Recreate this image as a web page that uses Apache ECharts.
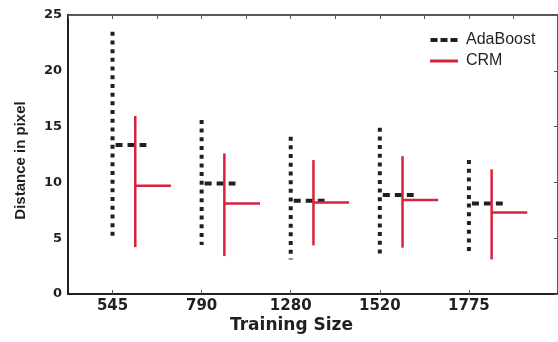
<!DOCTYPE html>
<html>
<head>
<meta charset="utf-8">
<script src="https://cdn.jsdelivr.net/npm/echarts@6/dist/echarts.min.js"></script>
<style>
  html, body { margin: 0; padding: 0; background: #fff; }
  #chart { width: 558px; height: 342px; }
</style>
</head>
<body>
<div id="chart"></div>
<script>
// training sizes (x categories)
var categories = ['545', '790', '1280', '1520', '1775'];

// AdaBoost: min / max / mean distance
var adaMin  = [5.2, 4.4, 3.1, 3.6, 3.6];
var adaMax  = [23.5, 15.6, 14.1, 14.9, 12.0];
var adaMean = [13.35, 9.9, 8.35, 8.87, 8.1];

// CRM: min / max / mean distance
var crmMin  = [4.2, 3.4, 4.35, 4.15, 3.1];
var crmMax  = [15.95, 12.6, 12.0, 12.35, 11.17];
var crmMean = [9.7, 8.1, 8.2, 8.42, 7.3];

var yTicks = [0, 5, 10, 15, 20, 25];

var ink = '#231f20';
var red = '#d7223b';
var boldFont = "'DejaVu Sans', sans-serif";

function rows(mins, maxs, means) {
  return categories.map(function (c, i) {
    return [i + 1, mins[i], maxs[i], means[i]];
  });
}

function renderAda(params, api) {
  var x = api.value(0);
  var top = api.coord([x, api.value(2)]);
  var bot = api.coord([x, api.value(1)]);
  var m0 = api.coord([x, api.value(3)]);
  var m1 = api.coord([x + 0.38, api.value(3)]);
  return {
    type: 'group',
    children: [
      { type: 'line', shape: { x1: top[0], y1: top[1], x2: bot[0], y2: bot[1] },
        style: { stroke: ink, lineWidth: 4, lineDash: [4, 4.7] } },
      { type: 'line', shape: { x1: m0[0] + 3, y1: m0[1], x2: m1[0], y2: m1[1] },
        style: { stroke: ink, lineWidth: 4, lineDash: [7, 5] } }
    ]
  };
}

function renderCrm(params, api) {
  var x = api.value(0) + 0.255;
  var top = api.coord([x, api.value(2)]);
  var bot = api.coord([x, api.value(1)]);
  var m0 = api.coord([x, api.value(3)]);
  var m1 = api.coord([x + 0.4, api.value(3)]);
  return {
    type: 'group',
    children: [
      { type: 'line', shape: { x1: top[0], y1: top[1], x2: bot[0], y2: bot[1] },
        style: { stroke: red, lineWidth: 2.5 } },
      { type: 'line', shape: { x1: m0[0], y1: m0[1], x2: m1[0], y2: m1[1] },
        style: { stroke: red, lineWidth: 2.5 } }
    ]
  };
}

var myChart = echarts.init(document.getElementById('chart'));

var option = {
  animation: false,
  backgroundColor: '#fff',
  grid: { left: 68, right: 0, top: 15, bottom: 48, show: false, containLabel: false, outerBoundsMode: 'none' },
  legend: {
    orient: 'vertical',
    left: 425,
    top: 27,
    itemWidth: 28,
    itemHeight: 4,
    itemGap: 5,
    textStyle: { fontFamily: "'Liberation Sans', sans-serif", fontSize: 16, color: ink, padding: [0, 0, 0, 3] },
    data: [
      { name: 'AdaBoost', icon: 'path://M0,0h7v4h-7z M10,0h7v4h-7z M20,0h7v4h-7z', itemStyle: { color: ink } },
      { name: 'CRM', icon: 'path://M0,0h28v3h-28z', itemStyle: { color: red } }
    ]
  },
  graphic: [{
    type: 'text',
    left: 230,
    top: 317,
    style: { text: 'Training Size', fill: ink, font: "bold 17px 'DejaVu Sans', sans-serif" }
  }],
  xAxis: [{
    type: 'value',
    min: 0.5,
    max: 6,
    position: 'bottom',
    splitLine: { show: false },
    axisLine: { onZero: false, lineStyle: { color: ink, width: 2 } },
    axisTick: { inside: true, length: 4, customValues: [1, 2, 3, 4, 5], lineStyle: { color: '#555' } },
    axisLabel: {
      customValues: [1, 2, 3, 4, 5],
      margin: 5,
      fontFamily: boldFont, fontWeight: 'bold', fontSize: 15, color: ink,
      formatter: function (v) { return categories[Math.round(v) - 1] || ''; }
    }
  }, {
    type: 'value',
    min: 0.5,
    max: 6,
    interval: 0.5,
    position: 'top',
    splitLine: { show: false },
    axisLine: { show: true, onZero: false, lineStyle: { color: ink, width: 1.5 } },
    axisTick: { inside: true, length: 4, lineStyle: { color: '#555' } },
    axisLabel: { show: false }
  }],
  yAxis: [{
    type: 'value',
    min: 0,
    max: 25,
    interval: 5,
    splitLine: { show: false },
    axisLine: { show: true, onZero: false, lineStyle: { color: ink, width: 2 } },
    axisTick: { show: false },
    axisLabel: {
      margin: 6,
      fontFamily: boldFont, fontWeight: 'bold', fontSize: 13, color: ink,
      formatter: function (v) { return yTicks.indexOf(v) >= 0 ? String(v) : ''; }
    },
    name: 'Distance in pixel',
    nameLocation: 'middle',
    nameGap: 30,
    nameTextStyle: {
      fontFamily: "'Liberation Sans', sans-serif",
      fontWeight: 'bold', fontSize: 15, color: ink, padding: [0, 12, 10, 0]
    }
  }, {
    type: 'value',
    min: 0,
    max: 25,
    interval: 5,
    position: 'right',
    splitLine: { show: false },
    axisLine: { show: true, onZero: false, lineStyle: { color: ink, width: 1.5 } },
    axisTick: { inside: true, length: 4, lineStyle: { color: '#555' } },
    axisLabel: { show: false }
  }],
  series: [{
    name: 'AdaBoost',
    type: 'custom',
    itemStyle: { color: ink },
    renderItem: renderAda,
    encode: { x: 0, y: [1, 2, 3] },
    data: rows(adaMin, adaMax, adaMean)
  }, {
    name: 'CRM',
    type: 'custom',
    itemStyle: { color: red },
    renderItem: renderCrm,
    encode: { x: 0, y: [1, 2, 3] },
    data: rows(crmMin, crmMax, crmMean)
  }]
};

myChart.setOption(option);
window.addEventListener('resize', myChart.resize);
</script>
</body>
</html>
